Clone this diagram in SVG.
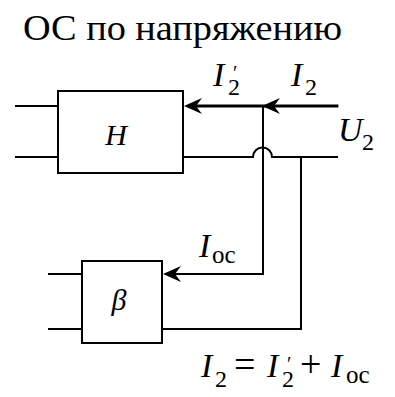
<svg xmlns="http://www.w3.org/2000/svg" width="395" height="397" viewBox="0 0 395 397">
<style>
.ln{fill:none;stroke:#000;stroke-width:2;stroke-linecap:square}
.thk{stroke-width:2.8}
.box{fill:#fff;stroke:#000;stroke-width:2}
.ah{fill:#000}
text{fill:#000}
.it{font-style:italic}
</style>
<g font-family="'Liberation Serif', 'DejaVu Serif', 'Times New Roman', serif">
<text x="23" y="40" font-size="35" textLength="319" lengthAdjust="spacingAndGlyphs">ОС по напряжению</text>
</g>
<g id="connectors">
<line class="ln" x1="16" y1="106" x2="58" y2="106"/>
<line class="ln" x1="16" y1="157" x2="58" y2="157"/>
<line class="ln thk" x1="337" y1="106" x2="190" y2="106"/>
<path class="ah" d="M262,106 L280,98 L274,106 L280,114 Z"/>
<path class="ah" d="M184,106 L202,98 L196,106 L202,114 Z"/>
<path class="ln" d="M183,157 L253,157 A9.5,9.5 0 0 1 272,157 L337,157"/>
<path class="ln" d="M263,106 L263,274 L170,274"/>
<path class="ah" d="M163,274 L181,266 L175,274 L181,282 Z"/>
<path class="ln" d="M301,157 L301,329 L162,329"/>
<line class="ln" x1="49" y1="274" x2="82" y2="274"/>
<line class="ln" x1="49" y1="329" x2="82" y2="329"/>
</g>
<g id="H" font-family="'Liberation Serif', 'DejaVu Serif', serif">
<rect class="box" x="58" y="91" width="125" height="82"/>
<text x="116" y="145" font-size="30" class="it" text-anchor="middle">H</text>
</g>
<g id="beta" font-family="'Liberation Serif', 'DejaVu Serif', serif">
<rect class="box" x="82" y="261" width="80" height="82"/>
<text x="119" y="310" font-size="30" class="it" text-anchor="middle">β</text>
</g>
<g id="labels" font-family="'Liberation Serif', 'DejaVu Serif', serif">
<text x="213" y="86" font-size="34"><tspan class="it">I</tspan><tspan font-size="24" x="228" y="95">2</tspan><tspan font-size="20" x="233" y="80">′</tspan></text>
<text x="291" y="86" font-size="34"><tspan class="it">I</tspan><tspan font-size="24" x="305" y="95">2</tspan></text>
<text x="338" y="141" font-size="34"><tspan class="it">U</tspan><tspan font-size="24" x="362" y="150">2</tspan></text>
<text x="199" y="257" font-size="34"><tspan class="it">I</tspan><tspan font-size="25" x="212" y="263">oc</tspan></text>
<text x="201" y="377" font-size="34"><tspan class="it">I</tspan><tspan font-size="24" x="215" y="387">2</tspan><tspan font-size="38" x="234" y="377">=</tspan><tspan class="it" x="267" y="377">I</tspan><tspan font-size="24" x="282" y="387">2</tspan><tspan font-size="20" x="287" y="371">′</tspan><tspan font-size="38" x="300" y="377">+</tspan><tspan class="it" x="331" y="377">I</tspan><tspan font-size="25" x="346" y="383">oc</tspan></text>
</g>
</svg>
